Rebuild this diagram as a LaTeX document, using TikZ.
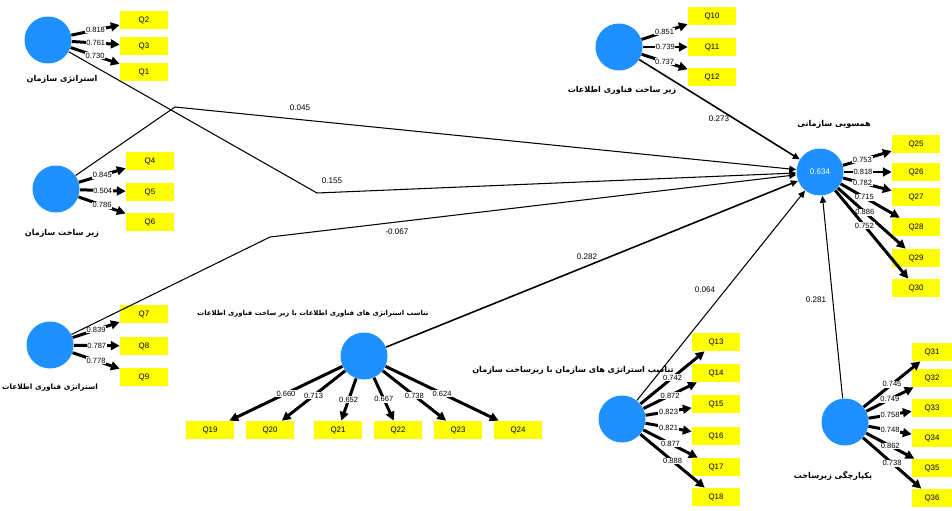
\documentclass[tikz,border=0pt]{standalone}
\usepackage{fontspec}
\setmainfont{Liberation Sans}
\newfontfamily\fafont[Script=Arabic]{DejaVu Sans}
\TeXXeTstate=1
\usepackage{tikz}
\usetikzlibrary{arrows.meta,positioning}
\usepackage{xcolor}
\definecolor{lvblue}{RGB}{30,144,255}
\definecolor{indyel}{RGB}{255,255,0}
\newcommand{\fatext}[1]{\beginR #1\endR}

\begin{document}
\begin{tikzpicture}[x=0.02cm, y=-0.02cm,
  lv/.style={circle, fill=lvblue, minimum size=0.94cm, inner sep=0pt,
    text=white, font=\fontsize{4.6}{5}\selectfont},
  ind/.style={fill=indyel, minimum width=0.96cm, minimum height=0.36cm,
    inner sep=0pt, font=\fontsize{4.5}{5}\selectfont},
  load/.style={line width=1.7pt, -{Triangle[length=5pt,width=5pt]}},
  pth/.style={line width=0.6pt, -{Triangle[length=4pt,width=3.6pt]}},
  lw/.style={fill=white, inner sep=0.4pt, font=\fontsize{4.3}{5}\selectfont},
  coef/.style={font=\fontsize{4.6}{5}\selectfont},
  lvname/.style={font=\fafont\bfseries\fontsize{4.6}{5}\selectfont}]
\useasboundingbox (0,0) rectangle (952,510);

% latent variables
\node[lv] (os) at (48,40) {};
\node[lv] (zs) at (56,189) {};
\node[lv] (af) at (50,345) {};
\node[lv] (zf) at (619,47) {};
\node[lv] (hs) at (820,172) {0.634};
\node[lv] (tf) at (364,356) {};
\node[lv] (ts) at (622,419) {};
\node[lv] (yz) at (845,422) {};

\node[lvname] (os-l) at (62,79) {\fatext{استراتژی سازمان}};
\node[lvname] (zs-l) at (62,233) {\fatext{زیر ساخت سازمان}};
\node[lvname, font=\fafont\bfseries\fontsize{4.2}{5}\selectfont] (af-l) at (50,388) {\fatext{استراتژی فناوری اطلاعات}};
\node[lvname] (zf-l) at (622,90) {\fatext{زیر ساخت فناوری اطلاعات}};
\node[lvname] (hs-l) at (834,124) {\fatext{همسویی سازمانی}};
\node[lvname, font=\fafont\bfseries\fontsize{3.9}{5}\selectfont] (tf-l) at (313,314) {\fatext{تناسب استراتژی های فناوری اطلاعات با زیر ساخت فناوری اطلاعات}};
\node[lvname] (ts-l) at (573,370) {\fatext{تناسب استراتژی های سازمان با زیرساخت سازمان}};
\node[lvname] (yz-l) at (833,476) {\fatext{یکپارچگی زیرساخت}};

% indicators
\node[ind] (q2) at (144,20) {Q2};
\node[ind] (q3) at (144,46) {Q3};
\node[ind] (q1) at (144,72) {Q1};
\node[ind] (q4) at (150,161) {Q4};
\node[ind] (q5) at (150,192) {Q5};
\node[ind] (q6) at (150,222) {Q6};
\node[ind] (q7) at (144,314) {Q7};
\node[ind] (q8) at (144,346) {Q8};
\node[ind] (q9) at (144,377) {Q9};
\node[ind] (q10) at (712,16) {Q10};
\node[ind] (q11) at (712,47) {Q11};
\node[ind] (q12) at (712,77) {Q12};
\node[ind] (q25) at (916,144) {Q25};
\node[ind] (q26) at (916,172) {Q26};
\node[ind] (q27) at (916,197) {Q27};
\node[ind] (q28) at (916,227) {Q28};
\node[ind] (q29) at (916,258) {Q29};
\node[ind] (q30) at (916,288) {Q30};
\node[ind] (q19) at (210,430) {Q19};
\node[ind] (q20) at (270,430) {Q20};
\node[ind] (q21) at (338,430) {Q21};
\node[ind] (q22) at (398,430) {Q22};
\node[ind] (q23) at (458,430) {Q23};
\node[ind] (q24) at (518,430) {Q24};
\node[ind] (q13) at (716,342) {Q13};
\node[ind] (q14) at (716,373) {Q14};
\node[ind] (q15) at (716,404) {Q15};
\node[ind] (q16) at (716,436) {Q16};
\node[ind] (q17) at (716,467) {Q17};
\node[ind] (q18) at (716,497) {Q18};
\node[ind, minimum width=0.8cm] (q31) at (932,352) {Q31};
\node[ind, minimum width=0.8cm] (q32) at (932,378) {Q32};
\node[ind, minimum width=0.8cm] (q33) at (932,408) {Q33};
\node[ind, minimum width=0.8cm] (q34) at (932,438) {Q34};
\node[ind, minimum width=0.8cm] (q35) at (932,468) {Q35};
\node[ind, minimum width=0.8cm] (q36) at (932,498) {Q36};

% outer loadings
\draw[load] (os) -- node[lw]{0.818} (q2);
\draw[load] (os) -- node[lw]{0.761} (q3);
\draw[load] (os) -- node[lw]{0.730} (q1);
\draw[load] (zs) -- node[lw]{0.845} (q4);
\draw[load] (zs) -- node[lw]{0.504} (q5);
\draw[load] (zs) -- node[lw]{0.786} (q6);
\draw[load] (af) -- node[lw]{0.839} (q7);
\draw[load] (af) -- node[lw]{0.787} (q8);
\draw[load] (af) -- node[lw]{0.778} (q9);
\draw[load] (zf) -- node[lw]{0.851} (q10);
\draw[load] (zf) -- node[lw]{0.739} (q11);
\draw[load] (zf) -- node[lw]{0.737} (q12);
\draw[load] (hs) -- node[lw, pos=0.4]{0.753} (q25);
\draw[load] (hs) -- node[lw, pos=0.4]{0.818} (q26);
\draw[load] (hs) -- node[lw, pos=0.4]{0.782} (q27);
\draw[load] (hs) -- node[lw, pos=0.4]{0.715} (q28);
\draw[load] (hs) -- node[lw, pos=0.4]{0.886} (q29);
\draw[load] (hs) -- node[lw, pos=0.4]{0.752} (q30);
\draw[load] (tf) -- node[lw]{0.660} (q19);
\draw[load] (tf) -- node[lw]{0.713} (q20);
\draw[load] (tf) -- node[lw]{0.652} (q21);
\draw[load] (tf) -- node[lw]{0.667} (q22);
\draw[load] (tf) -- node[lw]{0.738} (q23);
\draw[load] (tf) -- node[lw]{0.624} (q24);
\draw[load] (ts) -- node[lw]{0.742} (q13);
\draw[load] (ts) -- node[lw]{0.872} (q14);
\draw[load] (ts) -- node[lw]{0.823} (q15);
\draw[load] (ts) -- node[lw]{0.821} (q16);
\draw[load] (ts) -- node[lw]{0.877} (q17);
\draw[load] (ts) -- node[lw]{0.888} (q18);
\draw[load] (yz) -- node[lw]{0.745} (q31);
\draw[load] (yz) -- node[lw]{0.749} (q32);
\draw[load] (yz) -- node[lw]{0.758} (q33);
\draw[load] (yz) -- node[lw]{0.748} (q34);
\draw[load] (yz) -- node[lw]{0.862} (q35);
\draw[load] (yz) -- node[lw]{0.738} (q36);

% inner model
\coordinate (b1) at (317,193);
\coordinate (b2) at (175,107);
\coordinate (b3) at (270,237);
\draw[pth] (os) -- (b1) -- (hs);
\draw[pth] (zs) -- (b2) -- (hs);
\draw[pth] (af) -- (b3) -- (hs);
\draw[pth, line width=0.9pt] (tf) -- (hs);
\draw[pth, line width=0.9pt] (zf) -- (hs);
\draw[pth] (ts) -- (hs);
\draw[pth] (yz) -- (hs);
\node[coef] (c1) at (300,108) {0.045};
\node[coef] (c2) at (332,181) {0.155};
\node[coef] (c3) at (397,232) {-0.067};
\node[coef] (c4) at (587,257) {0.282};
\node[coef] (c5) at (719,119) {0.273};
\node[coef] (c6) at (705,290) {0.064};
\node[coef] (c7) at (816,300) {0.281};
\end{tikzpicture}
\end{document}
